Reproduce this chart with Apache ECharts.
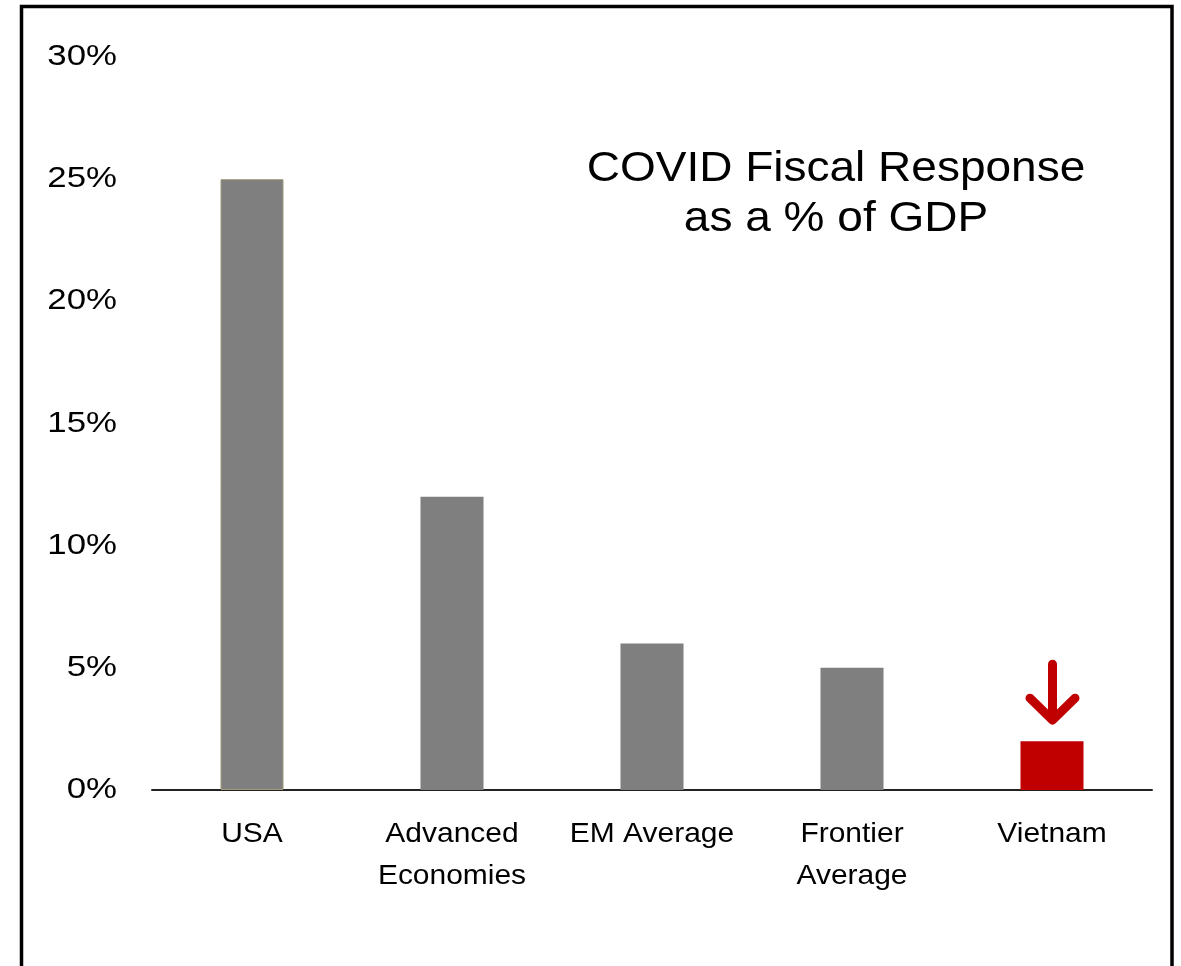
<!DOCTYPE html>
<html>
<head>
<meta charset="utf-8">
<script src="https://cdn.jsdelivr.net/npm/echarts@6/dist/echarts.min.js"></script>
<style>
  html, body { margin: 0; padding: 0; background: #ffffff; }
  #chart { width: 1181px; height: 966px; }
</style>
</head>
<body>
<div id="chart"></div>
<script>
// ---- data ----
const categories = ['USA', 'Advanced\nEconomies', 'EM Average', 'Frontier\nAverage', 'Vietnam'];
const fiscalResponse = [25, 12, 6, 5, 2];
const highlighted = [false, false, false, false, true];
const yTickLabels = ['0%', '5%', '10%', '15%', '20%', '25%', '30%'];
const yTickStep = 5;
const titleLines = ['COVID Fiscal Response', 'as a % of GDP'];

// ---- text horizontal stretch (reference text is drawn slightly wide) ----
const STRETCH_BY_SIZE = { 28: 1.07, 29: 1.2, 43: 1.07 };
(function () {
  const P = CanvasRenderingContext2D.prototype;
  const orig = P.fillText;
  P.fillText = function (text, x, y, maxWidth) {
    const m = /(\d+(?:\.\d+)?)px/.exec(this.font || '');
    const k = m ? (STRETCH_BY_SIZE[parseFloat(m[1])] || 1) : 1;
    if (k === 1) return orig.apply(this, arguments);
    this.save();
    this.translate(x, y);
    this.scale(k, 1);
    orig.call(this, text, 0, 0);
    this.restore();
  };
})();

const GRAY = '#7f7f7f';
const RED = '#c00000';
const FONT = "'Liberation Sans', Arial, sans-serif";

const chart = echarts.init(document.getElementById('chart'), null, { renderer: 'canvas' });

const barData = fiscalResponse.map((v, i) => ({
  value: v,
  itemStyle: highlighted[i]
    ? { color: RED }
    : (i === 0 ? { color: GRAY, borderColor: '#a09a78', borderWidth: 1 } : { color: GRAY })
}));

chart.setOption({
  backgroundColor: '#ffffff',
  animation: false,
  title: {
    text: titleLines.join('\n'),
    left: 836,
    top: 144,
    textAlign: 'center',
    padding: 0,
    textStyle: {
      fontFamily: FONT,
      fontSize: 43,
      fontWeight: 'normal',
      lineHeight: 50,
      color: '#000000'
    }
  },
  grid: { left: 152, right: 29, top: 57, bottom: 176, containLabel: false },
  xAxis: {
    type: 'category',
    data: categories,
    axisLine: { show: true, lineStyle: { color: '#222222', width: 2 } },
    axisTick: { show: false },
    axisLabel: {
      interval: 0,
      margin: 23,
      fontFamily: FONT,
      fontSize: 28,
      lineHeight: 42,
      color: '#000000',
      align: 'center'
    },
    splitLine: { show: false }
  },
  yAxis: {
    type: 'value',
    min: 0,
    max: 30,
    interval: yTickStep,
    axisLine: { show: false },
    axisTick: { show: false },
    splitLine: { show: false },
    axisLabel: {
      margin: 35,
      fontFamily: FONT,
      fontSize: 29,
      color: '#000000',
      padding: [3, 0, 0, 0],
      formatter: v => yTickLabels[Math.round(v / yTickStep)]
    }
  },
  series: [{
    type: 'bar',
    data: barData,
    barWidth: 63,
    silent: true
  }]
});

// arrow above the highlighted bar + frame border
const hiIdx = highlighted.indexOf(true);
const hiPx = chart.convertToPixel({ xAxisIndex: 0, yAxisIndex: 0 }, [hiIdx, fiscalResponse[hiIdx]]);
const arrowX = hiPx[0] + 0.5, barTopY = hiPx[1];
chart.setOption({
  graphic: [
    {
      type: 'rect',
      shape: { x: 21.5, y: 6.5, width: 1150.5, height: 1100 },
      style: { fill: null, stroke: '#000000', lineWidth: 3.5 },
      silent: true
    },
    {
      type: 'polyline',
      shape: { points: [[arrowX, barTopY - 77], [arrowX, barTopY - 22]] },
      style: { stroke: RED, lineWidth: 9, lineCap: 'round', fill: null },
      silent: true
    },
    {
      type: 'polyline',
      shape: { points: [[arrowX - 22.5, barTopY - 43], [arrowX, barTopY - 21], [arrowX + 22.5, barTopY - 43]] },
      style: { stroke: RED, lineWidth: 9, lineCap: 'round', lineJoin: 'round', fill: null },
      silent: true
    }
  ]
});
</script>
</body>
</html>
